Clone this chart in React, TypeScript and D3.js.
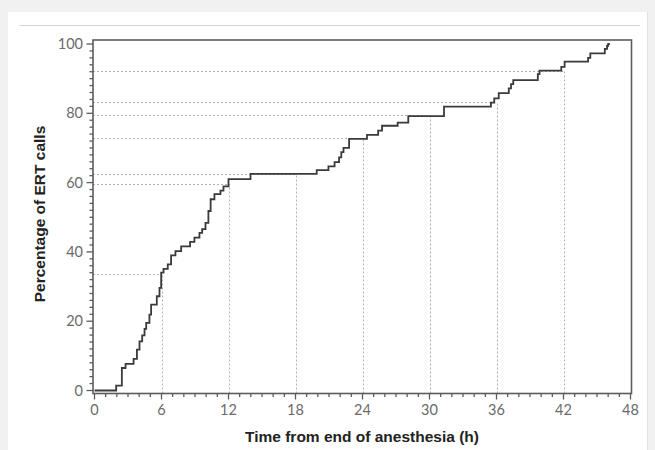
import React, { useEffect, useRef } from "react";
import * as d3 from "d3";

// cumulative % of ERT calls, step after each time (h)
const stepTimes = [0, 1.94, 2.45, 2.78, 3.5, 3.8, 4.03, 4.27, 4.48, 4.63, 4.92, 5.07, 5.58, 5.82, 5.97, 6.18, 6.56, 6.86, 7.25, 7.76, 8.56, 8.95, 9.4, 9.64, 9.94, 10.2, 10.4, 10.74, 11.28, 11.55, 12.0, 13.97, 19.9, 20.95, 21.5, 21.9, 22.1, 22.3, 22.8, 24.4, 25.4, 25.75, 27.15, 28.1, 31.3, 35.5, 35.8, 36.2, 37.1, 37.3, 37.5, 39.7, 39.85, 41.8, 42.1, 44.2, 44.4, 45.7, 45.9, 46.0];
const stepValues = [0, 1.4, 6.5, 7.7, 9.1, 11.8, 14.2, 15.9, 17.8, 19.5, 21.9, 24.8, 27.2, 29.6, 34.0, 35.1, 36.4, 39.0, 40.2, 41.6, 42.9, 44.1, 45.5, 46.6, 48.4, 51.8, 55.2, 56.7, 57.7, 58.9, 61.0, 62.5, 63.6, 64.7, 65.9, 67.3, 68.8, 70.0, 72.6, 73.8, 75.0, 76.4, 77.3, 79.2, 81.9, 83.1, 84.3, 85.8, 87.2, 88.4, 89.6, 91.3, 92.3, 93.4, 94.9, 96.0, 97.3, 98.6, 99.5, 100];
const endTime = 46.15;

// dashed guide lines at the 6 h marks
const refTimes = [6, 12, 18, 24, 30, 36, 42];
const refValues = [33.6, 59.6, 62.5, 72.8, 79.4, 83.4, 92.3];

const xTicks = [0, 6, 12, 18, 24, 30, 36, 42, 48];
const yTicks = [0, 20, 40, 60, 80, 100];

const App = () => {
  const svgRef = useRef<SVGSVGElement>(null);

  useEffect(() => {
    const width = 655;
    const height = 450;
    const svg = d3.select(svgRef.current);
    svg.selectAll("*").remove();
    svg.attr("width", width).attr("height", height);

    // page + panel
    svg.append("rect").attr("width", width).attr("height", height).attr("fill", "#f1f1f1");
    svg.append("rect").attr("x", 8).attr("y", 12).attr("width", 639).attr("height", 438).attr("fill", "#fff");
    svg.append("line").attr("x1", 19).attr("x2", 640).attr("y1", 25.5).attr("y2", 25.5).attr("stroke", "#d4d4d4");
    svg.append("line").attr("x1", 647.5).attr("x2", 647.5).attr("y1", 12).attr("y2", height).attr("stroke", "#e2e2e2");

    const x = d3.scaleLinear().domain([0, 48]).range([94.5, 630.5]);
    const y = d3.scaleLinear().domain([0, 100]).range([390.5, 44]);

    const frame = { left: 93, right: 631.5, top: 40, bottom: 393.5 };

    // dashed guides
    const guides = svg.append("g").attr("stroke", "#b0b0b0").attr("stroke-dasharray", "2,2").attr("stroke-width", 1);
    refTimes.forEach((t, i) => {
      guides.append("line")
        .attr("x1", Math.round(x(t)) + 0.5).attr("x2", Math.round(x(t)) + 0.5)
        .attr("y1", frame.bottom).attr("y2", y(refValues[i]));
      guides.append("line")
        .attr("x1", frame.left).attr("x2", x(t))
        .attr("y1", Math.round(y(refValues[i])) + 0.5).attr("y2", Math.round(y(refValues[i])) + 0.5);
    });

    // step curve
    const pts = stepTimes.map((t, i) => [t, stepValues[i]] as [number, number]);
    pts.push([endTime, stepValues[stepValues.length - 1]]);
    const line = d3.line<[number, number]>()
      .curve(d3.curveStepAfter)
      .x((d) => x(d[0]))
      .y((d) => y(d[1]));
    svg.append("path")
      .attr("d", line(pts))
      .attr("fill", "none")
      .attr("stroke", "#3a3a3a")
      .attr("stroke-width", 1.8);

    // frame
    svg.append("rect")
      .attr("x", frame.left).attr("y", frame.top)
      .attr("width", frame.right - frame.left).attr("height", frame.bottom - frame.top)
      .attr("fill", "none").attr("stroke", "#5c5c5c").attr("stroke-width", 1.6);

    // ticks (major + minor)
    const ax = svg.append("g").attr("stroke", "#5c5c5c").attr("stroke-width", 1.3);
    d3.range(0, 49, 1).forEach((t) => {
      const major = t % 6 === 0;
      ax.append("line")
        .attr("x1", x(t)).attr("x2", x(t))
        .attr("y1", frame.bottom).attr("y2", frame.bottom + (major ? 6 : 3.5));
    });
    d3.range(0, 101, 2).forEach((v) => {
      const major = v % 20 === 0;
      ax.append("line")
        .attr("x1", frame.left).attr("x2", frame.left - (major ? 6.5 : 3.5))
        .attr("y1", y(v)).attr("y2", y(v));
    });

    const tickFont = "Lato, 'Open Sans', sans-serif";
    svg.append("g")
      .selectAll("text")
      .data(xTicks)
      .enter()
      .append("text")
      .attr("x", (d) => x(d))
      .attr("y", 415)
      .attr("text-anchor", "middle")
      .attr("fill", "#6a6a6a")
      .style("font-family", tickFont)
      .style("font-size", "14.5px")
      .text((d) => d);

    svg.append("g")
      .selectAll("text")
      .data(yTicks)
      .enter()
      .append("text")
      .attr("x", 83)
      .attr("y", (d) => y(d) + 5)
      .attr("text-anchor", "end")
      .attr("fill", "#6a6a6a")
      .style("font-family", tickFont)
      .style("font-size", "14.5px")
      .text((d) => d);

    // axis titles
    svg.append("text")
      .attr("x", 362)
      .attr("y", 442)
      .attr("text-anchor", "middle")
      .attr("fill", "#222")
      .style("font-family", "'Liberation Sans', Arial, sans-serif")
      .style("font-weight", "bold")
      .style("font-size", "15.5px")
      .text("Time from end of anesthesia (h)");

    svg.append("text")
      .attr("transform", "translate(45,214) rotate(-90)")
      .attr("text-anchor", "middle")
      .attr("fill", "#222")
      .style("font-family", "'Liberation Sans', Arial, sans-serif")
      .style("font-weight", "bold")
      .style("font-size", "15.5px")
      .text("Percentage of ERT calls");
  }, []);

  return <svg ref={svgRef} style={{ position: "absolute", left: 0, top: 0 }} />;
};

export default App;
